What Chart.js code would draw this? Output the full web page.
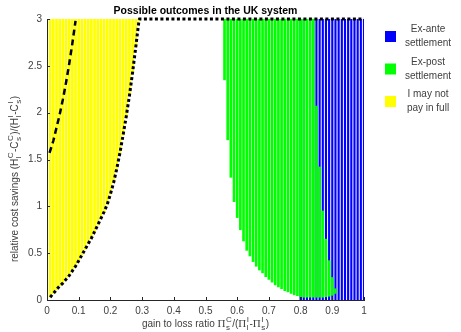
<!DOCTYPE html>
<html>
<head>
<meta charset="utf-8">
<script src="https://cdn.jsdelivr.net/npm/chart.js@4.4.1/dist/chart.umd.min.js"></script>
<style>
  body { margin: 0; background: #fff; }
  #wrap { width: 461px; height: 332px; }
</style>
</head>
<body>
<div id="wrap"><canvas id="outcomes" width="461" height="332"></canvas></div>
<script>
// tick labels
const xTickLabels = ['0', '0.1', '0.2', '0.3', '0.4', '0.5', '0.6', '0.7', '0.8', '0.9', '1'];
const yTickLabels = ['0', '0.5', '1', '1.5', '2', '2.5', '3'];

// "I may not pay in full" region (yellow), bar from lower bound up to 3
const yellowX = [0.01, 0.02, 0.03, 0.04, 0.05, 0.06, 0.07, 0.08, 0.09, 0.10,
  0.11, 0.12, 0.13, 0.14, 0.15, 0.16, 0.17, 0.18, 0.19, 0.20,
  0.21, 0.22, 0.23, 0.24, 0.25, 0.26, 0.27, 0.28, 0.29];
const yellowLow = [0.03, 0.07, 0.11, 0.15, 0.18, 0.22, 0.26, 0.31, 0.36, 0.42,
  0.48, 0.54, 0.60, 0.66, 0.73, 0.80, 0.87, 0.94, 1.02, 1.13,
  1.25, 1.40, 1.57, 1.76, 1.96, 2.18, 2.43, 2.70, 2.98];
const yellowHigh = 3;

// "Ex-post settlement" region (green)
const greenX = [0.56, 0.57, 0.58, 0.59, 0.60, 0.61, 0.62, 0.63, 0.64, 0.65,
  0.66, 0.67, 0.68, 0.69, 0.70, 0.71, 0.72, 0.73, 0.74, 0.75,
  0.76, 0.77, 0.78, 0.79, 0.80, 0.81, 0.82, 0.83, 0.84, 0.85,
  0.86, 0.87, 0.88, 0.89, 0.90, 0.91];
const greenLow = [2.35, 1.71, 1.31, 1.05, 0.88, 0.75, 0.63, 0.53, 0.47, 0.41,
  0.36, 0.32, 0.29, 0.25, 0.22, 0.19, 0.16, 0.14, 0.12, 0.10,
  0.085, 0.07, 0.055, 0.045, 0.035, 0.03, 0.03, 0.03, 0.03, 0.03,
  0.03, 0.03, 0.035, 0.04, 0.05, 0.07];
const greenHigh = [3, 3, 3, 3, 3, 3, 3, 3, 3, 3,
  3, 3, 3, 3, 3, 3, 3, 3, 3, 3,
  3, 3, 3, 3, 3, 3, 3, 3, 3, 2.07,
  1.42, 0.95, 0.65, 0.42, 0.24, 0.12];

// "Ex-ante settlement" region (blue)
const blueX = [0.80, 0.81, 0.82, 0.83, 0.84, 0.85, 0.86, 0.87, 0.88, 0.89,
  0.90, 0.91, 0.92, 0.93, 0.94, 0.95, 0.96, 0.97, 0.98, 0.99, 1.00];
const blueLow = 0;
const blueHigh = 3;

// boundary curves
const dottedX = [0.01, 0.02, 0.03, 0.04, 0.05, 0.06, 0.07, 0.08, 0.09, 0.10,
  0.11, 0.12, 0.13, 0.14, 0.15, 0.16, 0.17, 0.18, 0.19, 0.20,
  0.21, 0.22, 0.23, 0.24, 0.25, 0.26, 0.27, 0.28, 0.29, 0.292, 1.0];
const dottedY = [0.03, 0.07, 0.11, 0.15, 0.18, 0.22, 0.26, 0.31, 0.36, 0.42,
  0.48, 0.54, 0.60, 0.66, 0.73, 0.80, 0.87, 0.94, 1.02, 1.13,
  1.25, 1.40, 1.57, 1.76, 1.96, 2.18, 2.43, 2.70, 2.98, 3, 3];
const dashedX = [0.008, 0.02, 0.03, 0.04, 0.05, 0.06, 0.07, 0.08, 0.09];
const dashedY = [1.57, 1.70, 1.84, 1.98, 2.14, 2.32, 2.52, 2.74, 2.98];

const legendLabels = [['Ex-ante', 'settlement'], ['Ex-post', 'settlement'], ['I may not', 'pay in full']];
const legendColors = ['#0000ff', '#00ff00', '#ffff00'];

const FONT = "'Liberation Sans', Arial, sans-serif";
const TEXT = '#404040';

function bars(xs, lo, hi) {
  return xs.map((x, i) => ({
    x: x,
    y: [Array.isArray(lo) ? lo[i] : lo, Array.isArray(hi) ? hi[i] : hi]
  }));
}
function pts(xs, ys) {
  return xs.map((x, i) => ({ x: x, y: ys[i] }));
}

// draw text with stacked sub/superscripts
function partWidth(ctx, p) {
  if (typeof p === 'string') { ctx.font = '10px ' + FONT; return ctx.measureText(p).width; }
  if (p.pi) { ctx.font = '11px "Liberation Serif", serif'; return ctx.measureText(p.pi).width; }
  ctx.font = '8px ' + FONT;
  return Math.max(ctx.measureText(p.sub || '').width, ctx.measureText(p.sup || '').width) + 1;
}
function drawRich(ctx, parts, x, y) {
  let cx = x - parts.reduce((s, p) => s + partWidth(ctx, p), 0) / 2;
  ctx.textBaseline = 'middle';
  ctx.textAlign = 'left';
  parts.forEach(p => {
    const w = partWidth(ctx, p);
    if (typeof p === 'string' || p.pi) {
      ctx.fillText(p.pi || p, cx, y);
    } else {
      if (p.sup) ctx.fillText(p.sup, cx + 0.5, y - 4.5);
      if (p.sub) ctx.fillText(p.sub, cx + 0.5, y + 4);
    }
    cx += w;
  });
}

const decorations = {
  id: 'decorations',
  afterDraw(chart) {
    const ctx = chart.ctx;
    const a = chart.chartArea;
    const xs = chart.scales.x, ys = chart.scales.y;
    ctx.save();

    // inward tick marks
    ctx.strokeStyle = '#262626';
    ctx.lineWidth = 1;
    ctx.beginPath();
    xTickLabels.forEach(t => {
      const px = Math.round(xs.getPixelForValue(parseFloat(t))) + 0.5;
      ctx.moveTo(px, a.bottom);
      ctx.lineTo(px, a.bottom - 3);
    });
    yTickLabels.forEach(t => {
      const py = Math.round(ys.getPixelForValue(parseFloat(t))) + 0.5;
      ctx.moveTo(a.left, py);
      ctx.lineTo(a.left + 3, py);
    });
    ctx.stroke();

    // title
    ctx.fillStyle = '#000';
    ctx.font = 'bold 10.5px ' + FONT;
    ctx.textAlign = 'center';
    ctx.textBaseline = 'middle';
    ctx.fillText('Possible outcomes in the UK system', (a.left + a.right) / 2, 11);

    // axis titles
    ctx.fillStyle = TEXT;
    drawRich(ctx, ['gain to loss ratio ', { pi: '\u03A0' }, { sub: 's', sup: 'C' }, '/(', { pi: '\u03A0' },
      { sub: 'l', sup: 'I' }, '-', { pi: '\u03A0' }, { sub: 's', sup: 'I' }, ')'], (a.left + a.right) / 2, 324);

    ctx.save();
    ctx.translate(15, 179);
    ctx.rotate(-Math.PI / 2);
    drawRich(ctx, ['relative cost savings (H', { sub: 'l', sup: 'C' }, '-C', { sub: 's', sup: 'C' },
      ')/(H', { sub: 'l', sup: 'I' }, '-C', { sub: 's', sup: 'I' }, ')'], 0, 0);
    ctx.restore();

    // legend
    legendLabels.forEach((lines, i) => {
      const top = 31 + i * 32.5;
      ctx.fillStyle = legendColors[i];
      ctx.fillRect(385, top, 11, 11);
      ctx.fillStyle = TEXT;
      ctx.font = '10px ' + FONT;
      ctx.textAlign = 'center';
      ctx.textBaseline = 'middle';
      ctx.fillText(lines[0], 428, top - 1.5);
      ctx.fillText(lines[1], 428, top + 12.5);
    });
    ctx.restore();
  }
};

new Chart(document.getElementById('outcomes'), {
  type: 'bar',
  data: {
    datasets: [
      {
        label: 'Ex-ante settlement',
        data: bars(blueX, blueLow, blueHigh),
        backgroundColor: '#0000ff',
        barThickness: 1.5,
        grouped: false,
        order: 3
      },
      {
        label: 'Ex-post settlement',
        data: bars(greenX, greenLow, greenHigh),
        backgroundColor: '#00ff00',
        barThickness: 2,
        grouped: false,
        order: 2
      },
      {
        label: 'I may not pay in full',
        data: bars(yellowX, yellowLow, yellowHigh),
        backgroundColor: '#ffff00',
        barThickness: 2,
        grouped: false,
        order: 2
      },
      {
        type: 'line',
        data: pts(dottedX, dottedY),
        borderColor: '#000',
        borderWidth: 3,
        borderDash: [3, 2.5],
        pointRadius: 0,
        tension: 0,
        clip: false,
        order: 0
      },
      {
        type: 'line',
        data: pts(dashedX, dashedY),
        borderColor: '#000',
        borderWidth: 2.5,
        borderDash: [6, 4],
        pointRadius: 0,
        tension: 0,
        clip: false,
        order: 0
      }
    ]
  },
  options: {
    responsive: false,
    animation: false,
    layout: { padding: { top: 19, right: 97, left: 0, bottom: 0 } },
    plugins: { legend: { display: false }, tooltip: { enabled: false } },
    scales: {
      x: {
        type: 'linear',
        min: 0,
        max: 1,
        offset: false,
        grid: { display: false, drawTicks: false },
        border: { display: true, color: '#262626' },
        afterBuildTicks: s => { s.ticks = xTickLabels.map(t => ({ value: parseFloat(t) })); },
        afterFit: s => { s.height = 32; },
        ticks: {
          color: TEXT,
          font: { size: 10, family: FONT },
          padding: 5,
          maxRotation: 0,
          callback: (v, i) => xTickLabels[i]
        }
      },
      y: {
        min: 0,
        max: 3,
        grid: { display: false, drawTicks: false },
        border: { display: true, color: '#262626' },
        afterBuildTicks: s => { s.ticks = yTickLabels.map(t => ({ value: parseFloat(t) })); },
        afterFit: s => { s.width = 47; },
        ticks: {
          color: TEXT,
          font: { size: 10, family: FONT },
          padding: 5,
          callback: (v, i) => yTickLabels[i]
        }
      }
    }
  },
  plugins: [decorations]
});
</script>
</body>
</html>
